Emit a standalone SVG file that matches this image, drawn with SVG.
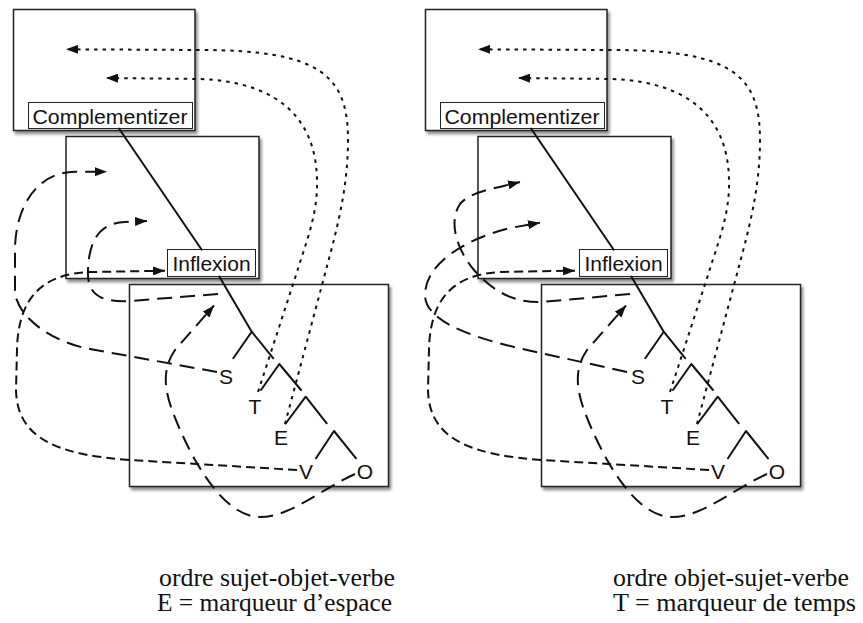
<svg xmlns="http://www.w3.org/2000/svg" width="863" height="623" viewBox="0 0 863 623">
<style>
.box{fill:#fff;stroke:#222;stroke-width:1.5;filter:url(#sh)}
.lbl{fill:#fff;stroke:#222;stroke-width:1}
.sans{font-family:"Liberation Sans",Arial,sans-serif;font-size:21px;fill:#111}
.serif{font-family:"Liberation Serif","Times New Roman",serif;font-size:25px;fill:#111}
.tree{fill:none;stroke:#111;stroke-width:2;stroke-linecap:round;stroke-linejoin:round}
.dot{fill:none;stroke:#111;stroke-width:2;stroke-dasharray:3.5 5;marker-end:url(#arr)}
.mid{fill:none;stroke:#111;stroke-width:2;stroke-dasharray:9 5;marker-end:url(#arr)}
.long{fill:none;stroke:#111;stroke-width:2;stroke-dasharray:15 8;marker-end:url(#arr)}
</style>
<defs>
<filter id="sh" x="-10%" y="-10%" width="130%" height="130%">
<feDropShadow dx="2" dy="3" stdDeviation="1.8" flood-color="#000" flood-opacity="0.45"/>
</filter>
<marker id="arr" markerUnits="userSpaceOnUse" markerWidth="12" markerHeight="9" viewBox="0 0 12 9" refX="12" refY="4.5" orient="auto">
<path d="M0,0 L12,4.5 L0,9 z" fill="#111"/>
</marker>
</defs>
<rect width="863" height="623" fill="#fff"/>

<g id="panel-left">
<g id="L-complementizer">
<rect class="box" x="13.5" y="9.5" width="181.5" height="121"/>
<rect class="lbl" x="28.5" y="102.5" width="164" height="26"/>
<text class="sans" x="110" y="123.5" text-anchor="middle" textLength="155" lengthAdjust="spacingAndGlyphs">Complementizer</text>
</g>
<g id="L-inflexion">
<rect class="box" x="66" y="136.5" width="193" height="142"/>
<rect class="lbl" x="167.5" y="249.5" width="88" height="27"/>
<text class="sans" x="211.5" y="271" text-anchor="middle">Inflexion</text>
</g>
<g id="L-verbal">
<rect class="box" x="129.5" y="284.5" width="259" height="202"/>
</g>
<g id="L-tree">
<path class="tree" d="M119,128.5 L201.7,249.7"/>
<path class="tree" d="M219.3,276.5 L251.7,331.7 L273.3,358.3 M251.7,331.7 L233.3,358.3"/>
<path class="tree" d="M261,390 L279.3,364 L301,390"/>
<path class="tree" d="M285.7,423.5 L305.7,396.7 L326.7,423.3"/>
<path class="tree" d="M316,458.3 L334,431 L356,458.3"/>
<text class="sans" x="226" y="383.5" text-anchor="middle">S</text>
<text class="sans" x="255" y="414" text-anchor="middle">T</text>
<text class="sans" x="281" y="445" text-anchor="middle">E</text>
<text class="sans" x="306" y="479" text-anchor="middle">V</text>
<text class="sans" x="365" y="479" text-anchor="middle">O</text>
</g>
<g id="L-connectors">
<path class="dot" d="M285,424 L326,270 C336,232 348,190 348,140 C348,75 320,50 200,50 L66,49.3"/>
<path class="dot" d="M258,392 L297,272 C305,245 318,215 317,180 C316,120 280,82 200,79 L106,78"/>
<path class="long" d="M217,372 L90,349 C50,341.8 15,315 15,290 L15,250 C15,210 35,172 75,171.7 L107,171.7"/>
<path class="mid" d="M297,470 L130,460 C60,455 17,440 16,390 L17,350 C18,300 40,274 90,272 L165,270.7"/>
<path class="long" d="M218,294 L130,301 C95,303 87,290 88,270 C89,240 100,223 125,222 L147,221"/>
<path class="long" d="M355,474 C320,490 290,517 260,517 C225,517 195,465 178,425 C165,395 160,372 175,350 L214,305.5"/>
</g>
</g>

<g id="panel-right" transform="translate(412,0)">
<g id="R-complementizer">
<rect class="box" x="13.5" y="9.5" width="181.5" height="121"/>
<rect class="lbl" x="28.5" y="102.5" width="164" height="26"/>
<text class="sans" x="110" y="123.5" text-anchor="middle" textLength="155" lengthAdjust="spacingAndGlyphs">Complementizer</text>
</g>
<g id="R-inflexion">
<rect class="box" x="66" y="136.5" width="193" height="142"/>
<rect class="lbl" x="167.5" y="249.5" width="88" height="27"/>
<text class="sans" x="211.5" y="271" text-anchor="middle">Inflexion</text>
</g>
<g id="R-verbal">
<rect class="box" x="129.5" y="284.5" width="259" height="202"/>
</g>
<g id="R-tree">
<path class="tree" d="M119,128.5 L201.7,249.7"/>
<path class="tree" d="M219.3,276.5 L251.7,331.7 L273.3,358.3 M251.7,331.7 L233.3,358.3"/>
<path class="tree" d="M261,390 L279.3,364 L301,390"/>
<path class="tree" d="M285.7,423.5 L305.7,396.7 L326.7,423.3"/>
<path class="tree" d="M316,458.3 L334,431 L356,458.3"/>
<text class="sans" x="226" y="383.5" text-anchor="middle">S</text>
<text class="sans" x="255" y="414" text-anchor="middle">T</text>
<text class="sans" x="281" y="445" text-anchor="middle">E</text>
<text class="sans" x="306" y="479" text-anchor="middle">V</text>
<text class="sans" x="365" y="479" text-anchor="middle">O</text>
</g>
<g id="R-connectors">
<path class="dot" d="M285,424 L326,270 C336,232 348,190 348,140 C348,75 320,50 200,50 L66,49.3"/>
<path class="dot" d="M258,392 L297,272 C305,245 318,215 317,180 C316,120 280,82 200,79 L106,78"/>
<path class="long" d="M215,372 L115,350 C75,341 13,325 13,295 C13,265 50,240 98,228 L128,222.7"/>
<path class="mid" d="M297,470 L130,460 C60,455 17,440 16,390 L17,350 C18,300 40,274 90,272 L163,270.7"/>
<path class="long" d="M218,294 L130,302 C100,303 80,290 62,270 C45,250 36,222 48,204 C58,192 80,189 108,182"/>
<path class="long" d="M355,474 C320,490 290,517 260,517 C225,517 195,465 178,425 C165,395 160,372 175,350 L214,305.5"/>
</g>
</g>

<g id="captions">
<text class="serif" x="159" y="586" textLength="236" lengthAdjust="spacingAndGlyphs">ordre sujet-objet-verbe</text>
<text class="serif" x="157" y="611" textLength="235" lengthAdjust="spacingAndGlyphs">E = marqueur d’espace</text>
<text class="serif" x="613" y="586" textLength="236" lengthAdjust="spacingAndGlyphs">ordre objet-sujet-verbe</text>
<text class="serif" x="613" y="611" textLength="243" lengthAdjust="spacingAndGlyphs">T = marqueur de temps</text>
</g>
</svg>
